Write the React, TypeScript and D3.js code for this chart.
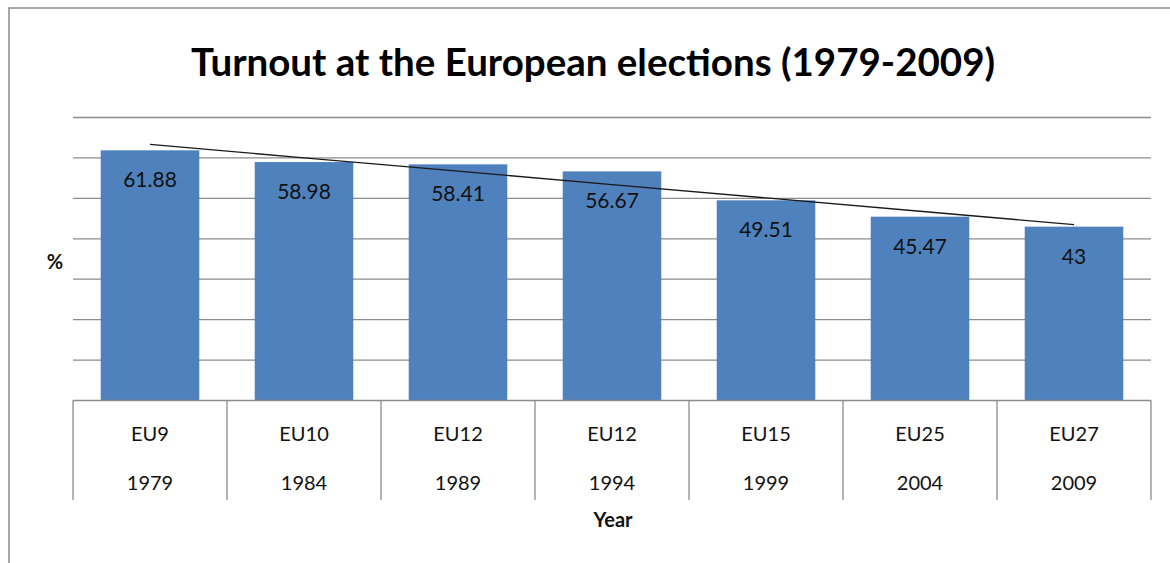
import React, { useEffect } from 'react';
import * as d3 from 'd3';

const groups = ["EU9", "EU10", "EU12", "EU12", "EU15", "EU25", "EU27"];
const years = ["1979", "1984", "1989", "1994", "1999", "2004", "2009"];
const turnout = [61.88, 58.98, 58.41, 56.67, 49.51, 45.47, 43];
const gridValues = [0, 10, 20, 30, 40, 50, 60, 70];

const W = 1170;
const H = 563;
const FONT = "Lato, 'Open Sans', sans-serif";

export default function App() {
  useEffect(() => {
    document.body.style.margin = '0';
  }, []);

  const x = d3.scaleBand<number>()
    .domain(d3.range(turnout.length))
    .range([73, 1151])
    .paddingInner(0.36)
    .paddingOuter(0.18);
  const step = x.step();
  const left = 73;

  const y = d3.scaleLinear().domain([0, 70]).range([400.5, 117.5]);

  // linear trendline (least squares), as in the spreadsheet
  const xs = turnout.map((_, i) => i + 1);
  const mx = d3.mean(xs)!;
  const my = d3.mean(turnout)!;
  const slope = d3.sum(xs, (v, i) => (v - mx) * (turnout[i] - my)) / d3.sum(xs, v => (v - mx) ** 2);
  const fit = (v: number) => my + slope * (v - mx);
  const trend = d3.line<number>()
    .x(i => x(i)! + x.bandwidth() / 2)
    .y(i => y(fit(i + 1)));

  return (
    <svg width={W} height={H} style={{ display: 'block', background: '#fff' }}>
      <rect x={9} y={8} width={W + 20} height={H + 20} fill="none" stroke="#8c8c8c" strokeWidth={1.5} />
      <text x={593} y={76} textAnchor="middle" fontFamily={FONT} fontWeight="bold" fontSize={38.5} fill="#000">
        Turnout at the European elections (1979-2009)
      </text>

      {gridValues.slice(1).map(v => (
        <line key={v} x1={left} x2={1151} y1={y(v)} y2={y(v)} stroke="#8c8c8c" strokeWidth={1.3} />
      ))}

      {turnout.map((v, i) => (
        <g key={i}>
          <rect x={x(i)} y={y(v)} width={x.bandwidth()} height={y(0) - y(v)} fill="#4f81bd" />
          <text x={x(i)! + x.bandwidth() / 2} y={y(v) + 37} textAnchor="middle" fontFamily={FONT} fontSize={21} fill="#111">
            {String(v)}
          </text>
        </g>
      ))}

      <path d={trend(d3.range(turnout.length)) || ''} fill="none" stroke="#1a1a1a" strokeWidth={1.3} />

      <line x1={left} x2={1151} y1={y(0)} y2={y(0)} stroke="#8c8c8c" strokeWidth={1.3} />
      {d3.range(turnout.length + 1).map(i => (
        <line key={i} x1={left + i * step} x2={left + i * step} y1={y(0)} y2={500} stroke="#8c8c8c" strokeWidth={1.3} />
      ))}
      {groups.map((g, i) => (
        <g key={i}>
          <text x={x(i)! + x.bandwidth() / 2} y={441} textAnchor="middle" fontFamily={FONT} fontSize={20} fill="#111">{g}</text>
          <text x={x(i)! + x.bandwidth() / 2} y={490} textAnchor="middle" fontFamily={FONT} fontSize={20} fill="#111">{years[i]}</text>
        </g>
      ))}

      <text x={613} y={527} textAnchor="middle" fontFamily={FONT} fontWeight="bold" fontSize={20} fill="#111">Year</text>
      <text x={55} y={269} textAnchor="middle" fontFamily={FONT} fontWeight="bold" fontSize={20} fill="#111">%</text>
    </svg>
  );
}
